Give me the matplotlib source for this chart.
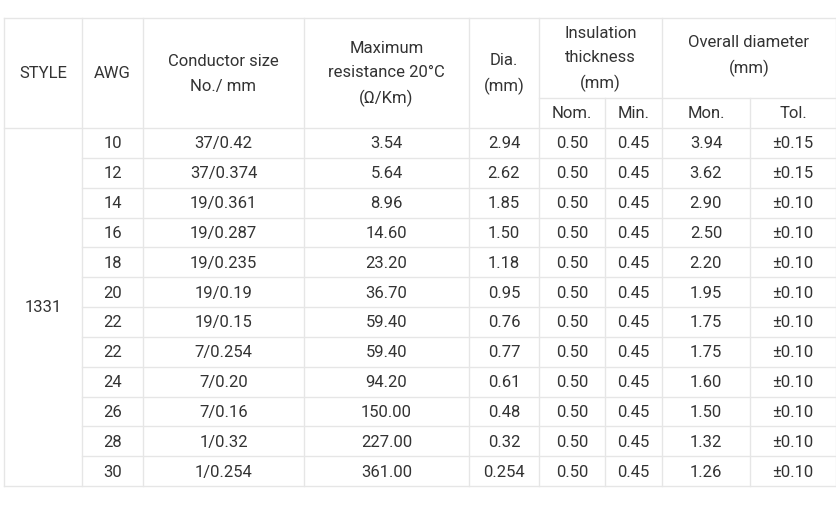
import matplotlib.pyplot as plt

awg = ['10', '12', '14', '16', '18', '20', '22', '22', '24', '26', '28', '30']
conductor = ['37/0.42', '37/0.374', '19/0.361', '19/0.287', '19/0.235', '19/0.19',
             '19/0.15', '7/0.254', '7/0.20', '7/0.16', '1/0.32', '1/0.254']
resistance = ['3.54', '5.64', '8.96', '14.60', '23.20', '36.70', '59.40', '59.40',
              '94.20', '150.00', '227.00', '361.00']
dia = ['2.94', '2.62', '1.85', '1.50', '1.18', '0.95', '0.76', '0.77', '0.61',
       '0.48', '0.32', '0.254']
ins_nom = ['0.50'] * 12
ins_min = ['0.45'] * 12
od_nom = ['3.94', '3.62', '2.90', '2.50', '2.20', '1.95', '1.75', '1.75', '1.60',
          '1.50', '1.32', '1.26']
od_tol = ['±0.15', '±0.15'] + ['±0.10'] * 10
style = '1331'

W, H = 837, 516
fig = plt.figure(figsize=(W / 100, H / 100), dpi=100)
ax = fig.add_axes([0, 0, 1, 1])
ax.set_xlim(0, W)
ax.set_ylim(H, 0)
ax.axis('off')

xs = [4, 82, 143, 304, 469, 539, 605, 662, 750, 836]
top, mid, hbot, bot = 18, 98, 128, 486
rh = (bot - hbot) / len(awg)
lc = '#e6e6e6'
tc = '#333333'
fs = 12
font = 'Roboto'

def line(x0, y0, x1, y1):
    ax.plot([x0, x1], [y0, y1], color=lc, lw=1)

def txt(x, y, s):
    ax.text(x, y + 1, s, ha='center', va='center', fontsize=fs, color=tc,
            family=font, linespacing=1.75)

# outer frame and header lines
line(xs[0], top, xs[-1], top)
line(xs[0], bot, xs[-1], bot)
line(xs[5], mid, xs[-1], mid)
line(xs[0], hbot, xs[-1], hbot)
for i, x in enumerate(xs):
    if i in (6, 8):
        line(x, mid, x, bot)
    else:
        line(x, top, x, bot)
for r in range(1, len(awg)):
    y = hbot + r * rh
    line(xs[1], y, xs[-1], y)

# headers
hy = (top + hbot) / 2
txt((xs[0] + xs[1]) / 2, hy, 'STYLE')
txt((xs[1] + xs[2]) / 2, hy, 'AWG')
txt((xs[2] + xs[3]) / 2, hy, 'Conductor size\nNo./ mm')
txt((xs[3] + xs[4]) / 2, hy, 'Maximum\nresistance 20°C\n(Ω/Km)')
txt((xs[4] + xs[5]) / 2, hy, 'Dia.\n(mm)')
txt((xs[5] + xs[7]) / 2, (top + mid) / 2, 'Insulation\nthickness\n(mm)')
txt((xs[7] + xs[9]) / 2, (top + mid) / 2 - 3, 'Overall diameter\n(mm)')
sy = (mid + hbot) / 2
for a, b, s in [(5, 6, 'Nom.'), (6, 7, 'Min.'), (7, 8, 'Mon.'), (8, 9, 'Tol.')]:
    txt((xs[a] + xs[b]) / 2, sy, s)

txt((xs[0] + xs[1]) / 2, (hbot + bot) / 2, style)
cols = [awg, conductor, resistance, dia, ins_nom, ins_min, od_nom, od_tol]
for c, vals in enumerate(cols):
    cx = (xs[c + 1] + xs[c + 2]) / 2
    for r, v in enumerate(vals):
        txt(cx, hbot + (r + 0.5) * rh, v)

fig.savefig('out.png', dpi=100)
